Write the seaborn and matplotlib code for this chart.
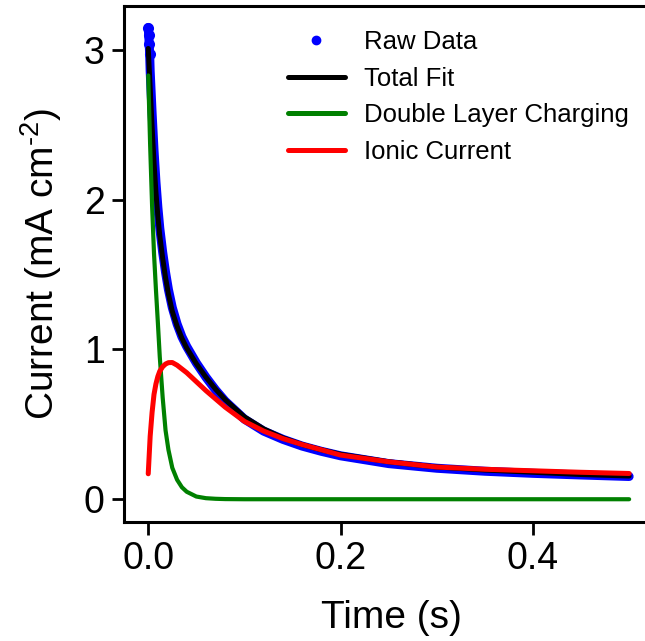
import numpy as np
import pandas as pd
import seaborn as sns
import matplotlib
matplotlib.use("Agg")
import matplotlib.pyplot as plt
from matplotlib.lines import Line2D

# ---- data ----
t_raw = [0.0, 0.0005, 0.001, 0.0015, 0.002, 0.003, 0.004, 0.006, 0.008, 0.010,
         0.012, 0.015, 0.018, 0.021, 0.025, 0.03, 0.035, 0.04, 0.05, 0.06,
         0.07, 0.08, 0.10, 0.12, 0.14, 0.16, 0.18, 0.20, 0.25, 0.30,
         0.35, 0.40, 0.45, 0.50]
i_raw = [3.15, 3.10, 3.04, 2.97, 2.86, 2.72, 2.58, 2.33, 2.12, 1.95,
         1.81, 1.65, 1.515, 1.40, 1.28, 1.17, 1.085, 1.02, 0.91, 0.815,
         0.73, 0.655, 0.535, 0.455, 0.40, 0.355, 0.32, 0.29, 0.238, 0.207,
         0.187, 0.173, 0.162, 0.152]

t_fit = [0.0, 0.002, 0.004, 0.006, 0.008, 0.010, 0.012, 0.015, 0.018, 0.021,
         0.025, 0.03, 0.035, 0.04, 0.05, 0.06, 0.07, 0.08, 0.10, 0.12,
         0.14, 0.16, 0.18, 0.20, 0.25, 0.30, 0.35, 0.40, 0.45, 0.50]
i_total = [3.01, 2.75, 2.49, 2.25, 2.05, 1.89, 1.76, 1.61, 1.48, 1.37,
           1.255, 1.155, 1.075, 1.01, 0.905, 0.815, 0.735, 0.665, 0.55, 0.47,
           0.41, 0.365, 0.33, 0.30, 0.25, 0.215, 0.195, 0.18, 0.165, 0.155]
i_dl = [2.83, 2.36, 1.96, 1.64, 1.40, 1.18, 0.95, 0.68, 0.46, 0.33,
        0.21, 0.13, 0.08, 0.05, 0.018, 0.007, 0.003, 0.001, 0.0, 0.0,
        0.0, 0.0, 0.0, 0.0, 0.0, 0.0, 0.0, 0.0, 0.0, 0.0]
i_ionic = [0.17, 0.42, 0.58, 0.70, 0.77, 0.82, 0.855, 0.885, 0.903, 0.912,
           0.913, 0.895, 0.87, 0.845, 0.785, 0.725, 0.67, 0.615, 0.52, 0.455,
           0.405, 0.365, 0.33, 0.295, 0.25, 0.215, 0.20, 0.19, 0.18, 0.172]

labels = ["Raw Data", "Total Fit", "Double Layer Charging", "Ionic Current"]
x_ticks = [0.0, 0.2, 0.4]
y_ticks = [0, 1, 2, 3]

sns.set_style("ticks")
plt.rcParams["font.family"] = ["Liberation Sans", "DejaVu Sans"]
plt.rcParams["mathtext.fontset"] = "custom"
plt.rcParams["mathtext.rm"] = "Liberation Sans"
plt.rcParams["mathtext.it"] = "Liberation Sans:italic"
plt.rcParams["mathtext.bf"] = "Liberation Sans:bold"
for k in ["text.color", "axes.labelcolor", "xtick.color", "ytick.color",
          "axes.edgecolor"]:
    plt.rcParams[k] = "black"

raw_df = pd.DataFrame({"t": t_raw, "i": i_raw})
fit_df = pd.DataFrame({"t": t_fit, "total": i_total, "dl": i_dl, "ionic": i_ionic})

fig = plt.figure(figsize=(6.45, 6.41), dpi=100)
ax = fig.add_axes([124 / 645, (641 - 522) / 641, 534 / 645, 516.5 / 641])

sns.lineplot(data=raw_df, x="t", y="i", ax=ax, color="blue", lw=6.5,
             marker="o", markersize=8, markeredgewidth=0, markevery=[0, 1, 2, 3],
             solid_capstyle="round", solid_joinstyle="round",
             estimator=None, sort=False)
sns.lineplot(data=fit_df, x="t", y="total", ax=ax, color="black", lw=3.6,
             solid_joinstyle="round", estimator=None, sort=False)
sns.lineplot(data=fit_df, x="t", y="dl", ax=ax, color="green", lw=3.0,
             solid_capstyle="round", solid_joinstyle="round",
             estimator=None, sort=False)
sns.lineplot(data=fit_df, x="t", y="ionic", ax=ax, color="red", lw=3.6,
             solid_capstyle="round", solid_joinstyle="round",
             estimator=None, sort=False)

ax.set_xlim(-0.0252, 0.53)
ax.set_ylim(-0.152, 3.297)
ax.set_xticks(x_ticks)
ax.set_xticklabels([f"{v:.1f}" for v in x_ticks])
ax.set_yticks(y_ticks)
ax.set_yticklabels([str(v) for v in y_ticks])
ax.tick_params(labelsize=27, width=2.0, length=9, pad=5, color="black",
               labelcolor="black")
ax.set_xlabel("Time (s)", fontsize=28, labelpad=16)
ax.set_ylabel("Current (mA cm$^{\u20102}$)", fontsize=28, labelpad=14)
for s in ax.spines.values():
    s.set_linewidth(2.2)
    s.set_color("black")

handles = [
    Line2D([0], [0], marker="o", ls="none", color="blue", markersize=6),
    Line2D([0], [0], color="black", lw=3.6),
    Line2D([0], [0], color="green", lw=3.6),
    Line2D([0], [0], color="red", lw=3.6),
]
fig.legend(handles, labels, loc="upper left", bbox_to_anchor=(288 / 645, 0.953),
           frameon=False, fontsize=18.5, handlelength=2.2, handletextpad=0.75,
           labelspacing=0.49, borderpad=0, borderaxespad=0)

fig.savefig("out.png", dpi=100)
